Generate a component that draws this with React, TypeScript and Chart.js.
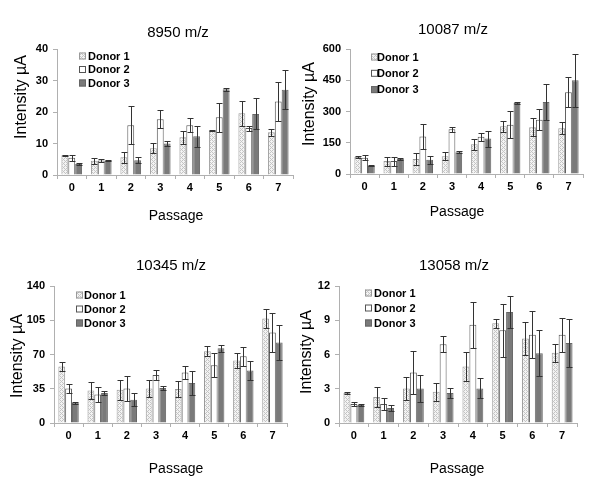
import React, { useEffect, useRef } from "react";
import { Chart, registerables } from "chart.js";

Chart.register(...registerables);

const passages = ["0", "1", "2", "3", "4", "5", "6", "7"];
const donorNames = ["Donor 1", "Donor 2", "Donor 3"];

// 8950 m/z
const mz8950Donor1 = [6.3, 4.5, 5.6, 8.5, 12.0, 14.1, 19.6, 13.6];
const mz8950Donor1Err = [0.2, 1.0, 1.7, 1.6, 2.0, 0.15, 4.0, 1.1];
const mz8950Donor2 = [5.5, 4.6, 15.8, 17.7, 15.8, 18.3, 14.9, 23.3];
const mz8950Donor2Err = [0.9, 0.6, 6.0, 2.8, 2.2, 4.5, 0.8, 6.3];
const mz8950Donor3 = [3.5, 4.6, 4.7, 10.0, 12.3, 27.2, 19.4, 27.1];
const mz8950Donor3Err = [0.3, 0.3, 1.0, 0.8, 3.4, 0.4, 4.9, 6.2];
const mz8950Ticks = [0, 10, 20, 30, 40];

// 10087 m/z
const mz10087Donor1 = [82, 62, 72, 85, 143, 229, 225, 220];
const mz10087Donor1Err = [6, 22, 28, 20, 27, 26, 42, 28];
const mz10087Donor2 = [78, 62, 180, 215, 179, 237, 261, 393];
const mz10087Donor2Err = [12, 22, 60, 12, 20, 64, 50, 72];
const mz10087Donor3 = [40, 72, 68, 105, 170, 341, 346, 450];
const mz10087Donor3Err = [3, 5, 20, 5, 38, 6, 88, 127];
const mz10087Ticks = [0, 150, 300, 450, 600];

// 10345 m/z
const mz10345Donor1 = [57.8, 33.3, 34, 35.3, 34.7, 73.4, 63.9, 106.7];
const mz10345Donor1Err = [5, 8.7, 10, 8.5, 8.5, 4.8, 8, 9.5];
const mz10345Donor2 = [35.3, 29.2, 35.3, 49, 51.6, 59, 68.3, 92.4];
const mz10345Donor2Err = [5, 7.5, 13, 4.8, 7, 12.5, 9.8, 20];
const mz10345Donor3 = [20.7, 30.6, 23.8, 35.7, 40.8, 76.5, 53.7, 82.2];
const mz10345Donor3Err = [1, 2, 6.5, 2, 12, 3.7, 10, 18];
const mz10345Ticks = [0, 35, 70, 105, 140];

// 13058 m/z
const mz13058Donor1 = [2.62, 2.27, 3.03, 2.74, 4.95, 8.74, 7.4, 6.15];
const mz13058Donor1Err = [0.1, 0.87, 1.0, 0.8, 1.3, 0.4, 1.43, 0.8];
const mz13058Donor2 = [1.66, 1.66, 4.43, 6.9, 8.6, 8.13, 7.72, 7.72];
const mz13058Donor2Err = [0.15, 0.5, 1.86, 0.7, 2.0, 2.33, 2.07, 1.46];
const mz13058Donor3 = [1.57, 1.31, 3.03, 2.62, 3.03, 9.73, 6.12, 7.0];
const mz13058Donor3Err = [0.07, 0.25, 1.15, 0.45, 0.87, 1.4, 2.0, 2.1];
const mz13058Ticks = [0, 3, 6, 9, 12];

const FONT = "'Liberation Sans', Arial, sans-serif";

function makePattern(): CanvasPattern | string {
  const c = document.createElement("canvas");
  c.width = 4;
  c.height = 4;
  const g = c.getContext("2d");
  if (!g) return "#e0e0e0";
  g.fillStyle = "#f3f3f3";
  g.fillRect(0, 0, 4, 4);
  g.fillStyle = "#c4c4c4";
  const pts = [
    [0, 0], [1, 1], [2, 2], [3, 3], [0, 2], [2, 0],
  ];
  pts.forEach(([x, y]) => g.fillRect(x, y, 1, 1));
  const p = g.createPattern(c, "repeat");
  return p || "#e0e0e0";
}

const errorBarPlugin = {
  id: "errorBars",
  afterDatasetsDraw(chart: any) {
    const ctx = chart.ctx;
    const ys = chart.scales.y;
    ctx.save();
    ctx.strokeStyle = "#333";
    ctx.lineWidth = 1;
    chart.data.datasets.forEach((ds: any, i: number) => {
      const meta = chart.getDatasetMeta(i);
      meta.data.forEach((bar: any, j: number) => {
        const v = ds.data[j];
        const e = ds.errors[j];
        const x = Math.round(bar.x) + 0.5;
        const t = Math.round(ys.getPixelForValue(v + e)) + 0.5;
        const b = Math.round(ys.getPixelForValue(Math.max(0, v - e))) + 0.5;
        ctx.beginPath();
        ctx.moveTo(x, t);
        ctx.lineTo(x, b);
        ctx.moveTo(x - 3, t);
        ctx.lineTo(x + 3, t);
        ctx.moveTo(x - 3, b);
        ctx.lineTo(x + 3, b);
        ctx.stroke();
      });
    });
    ctx.restore();
  },
};

const annotPlugin = {
  id: "annot",
  afterDraw(chart: any, _args: any, o: any) {
    const ctx = chart.ctx;
    ctx.save();
    ctx.fillStyle = "#000";
    ctx.font = `15px ${FONT}`;
    ctx.textAlign = "center";
    ctx.textBaseline = "alphabetic";
    ctx.fillText(o.title, o.titleX, o.titleY);
    ctx.font = `14px ${FONT}`;
    ctx.fillText(o.xTitle, o.xTitleX, o.xTitleY);
    ctx.save();
    ctx.translate(o.yTitleX, o.yTitleY);
    ctx.rotate(-Math.PI / 2);
    ctx.font = `16px ${FONT}`;
    ctx.textBaseline = "middle";
    ctx.fillText(o.yTitle, 0, 0);
    ctx.restore();
    ctx.font = `bold 11px ${FONT}`;
    ctx.textAlign = "left";
    ctx.textBaseline = "middle";
    chart.data.datasets.forEach((ds: any, i: number) => {
      const cy = o.legendY + i * o.legendGap;
      const bx = o.legendX;
      ctx.fillStyle = ds.backgroundColor;
      ctx.fillRect(bx, cy - 3.5, 7, 7);
      ctx.strokeStyle = ds.borderColor;
      ctx.lineWidth = 1;
      ctx.strokeRect(bx + 0.5, cy - 3, 6, 6);
      ctx.fillStyle = "#000";
      ctx.fillText(ds.label, o.legendTextX, cy + 0.5);
    });
    ctx.restore();
  },
};

type PanelProps = {
  left: number;
  top: number;
  width: number;
  height: number;
  plotL: number;
  plotR: number;
  plotT: number;
  plotB: number;
  title: string;
  titleX: number;
  titleY: number;
  xTitleX: number;
  xTitleY: number;
  yTitleX: number;
  yTitleY: number;
  legendX: number;
  legendTextX: number;
  legendY: number;
  legendGap: number;
  ticks: number[];
  series: number[][];
  errors: number[][];
};

function Panel(p: PanelProps) {
  const ref = useRef<HTMLCanvasElement | null>(null);
  useEffect(() => {
    if (!ref.current) return;
    const pattern = makePattern();
    const fills = [pattern, "#ffffff", "#7a7a7a"];
    const borders = ["#9a9a9a", "#555555", "#666666"];
    const tickFont = { family: FONT, size: 11, weight: "bold" as const };
    const chart = new Chart(ref.current, {
      type: "bar",
      data: {
        labels: passages,
        datasets: p.series.map((s, i) => ({
          label: donorNames[i],
          data: s,
          errors: p.errors[i],
          backgroundColor: fills[i],
          borderColor: borders[i],
          borderWidth: 1,
          categoryPercentage: 0.7,
          barPercentage: 1.0,
        })) as any,
      },
      options: {
        animation: false,
        responsive: false,
        maintainAspectRatio: false,
        events: [],
        layout: {
          padding: { left: 0, right: p.width - p.plotR, top: p.plotT, bottom: 0 },
        },
        plugins: {
          legend: { display: false },
          title: { display: false },
          tooltip: { enabled: false },
          annot: {
            title: p.title,
            titleX: p.titleX,
            titleY: p.titleY,
            xTitle: "Passage",
            xTitleX: p.xTitleX,
            xTitleY: p.xTitleY,
            yTitle: "Intensity µA",
            yTitleX: p.yTitleX,
            yTitleY: p.yTitleY,
            legendX: p.legendX,
            legendTextX: p.legendTextX,
            legendY: p.legendY,
            legendGap: p.legendGap,
          },
        } as any,
        scales: {
          x: {
            offset: true,
            grid: {
              display: true,
              drawOnChartArea: false,
              offset: true,
              tickLength: 4,
              color: "#b0b0b0",
            },
            border: { color: "#b0b0b0" },
            ticks: { font: tickFont, color: "#000", padding: 2, maxRotation: 0 },
            afterFit: (s: any) => {
              s.height = p.height - p.plotB;
            },
          },
          y: {
            min: p.ticks[0],
            max: p.ticks[p.ticks.length - 1],
            afterBuildTicks: (s: any) => {
              s.ticks = p.ticks.map((v) => ({ value: v }));
            },
            grid: {
              display: true,
              drawOnChartArea: false,
              tickLength: 4,
              color: "#b0b0b0",
            },
            border: { color: "#b0b0b0" },
            ticks: { font: tickFont, color: "#000", padding: 5 },
            afterFit: (s: any) => {
              s.width = p.plotL;
            },
          },
        },
      },
      plugins: [errorBarPlugin, annotPlugin],
    });
    return () => chart.destroy();
  }, []);
  return (
    <canvas
      ref={ref}
      width={p.width}
      height={p.height}
      style={{
        position: "absolute",
        left: p.left,
        top: p.top,
        width: p.width,
        height: p.height,
      }}
    />
  );
}

export default function App() {
  return (
    <div
      style={{
        position: "absolute",
        left: 0,
        top: 0,
        width: 600,
        height: 494,
        background: "#fff",
        overflow: "hidden",
      }}
    >
      <Panel
        left={0} top={0} width={300} height={240}
        plotL={57} plotR={293} plotT={49} plotB={175}
        title="8950 m/z" titleX={178} titleY={37}
        xTitleX={176} xTitleY={220}
        yTitleX={22} yTitleY={97}
        legendX={79} legendTextX={88} legendY={56} legendGap={13.5}
        ticks={mz8950Ticks}
        series={[mz8950Donor1, mz8950Donor2, mz8950Donor3]}
        errors={[mz8950Donor1Err, mz8950Donor2Err, mz8950Donor3Err]}
      />
      <Panel
        left={300} top={0} width={300} height={240}
        plotL={50} plotR={283} plotT={49} plotB={174}
        title="10087 m/z" titleX={153} titleY={34}
        xTitleX={157} xTitleY={216}
        yTitleX={10} yTitleY={104}
        legendX={71} legendTextX={77} legendY={57} legendGap={16.3}
        ticks={mz10087Ticks}
        series={[mz10087Donor1, mz10087Donor2, mz10087Donor3]}
        errors={[mz10087Donor1Err, mz10087Donor2Err, mz10087Donor3Err]}
      />
      <Panel
        left={0} top={240} width={300} height={254}
        plotL={54} plotR={287} plotT={46} plotB={183}
        title="10345 m/z" titleX={171} titleY={30}
        xTitleX={176} xTitleY={233}
        yTitleX={18} yTitleY={116}
        legendX={76} legendTextX={84} legendY={55} legendGap={14}
        ticks={mz10345Ticks}
        series={[mz10345Donor1, mz10345Donor2, mz10345Donor3]}
        errors={[mz10345Donor1Err, mz10345Donor2Err, mz10345Donor3Err]}
      />
      <Panel
        left={300} top={240} width={300} height={254}
        plotL={39} plotR={277} plotT={46} plotB={183}
        title="13058 m/z" titleX={154} titleY={30}
        xTitleX={157} xTitleY={233}
        yTitleX={7} yTitleY={112}
        legendX={65} legendTextX={74} legendY={53} legendGap={15}
        ticks={mz13058Ticks}
        series={[mz13058Donor1, mz13058Donor2, mz13058Donor3]}
        errors={[mz13058Donor1Err, mz13058Donor2Err, mz13058Donor3Err]}
      />
    </div>
  );
}
